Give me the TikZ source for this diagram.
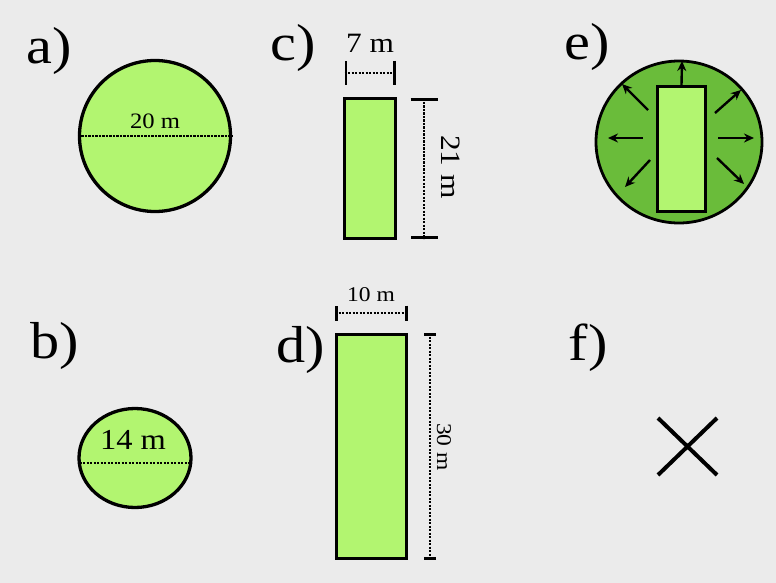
\documentclass[tikz,border=0pt]{standalone}
\usepackage{fontspec}
\setmainfont{Liberation Serif}[FakeStretch=1.12]
\usetikzlibrary{arrows.meta,shapes.geometric}
\definecolor{bg}{RGB}{235,235,235}
\definecolor{lgreen}{RGB}{178,245,112}
\definecolor{dgreen}{RGB}{106,188,58}
\begin{document}
\begin{tikzpicture}[x=1pt,y=-1pt,
  shapeline/.style={draw=black, line width=3.3pt, fill=lgreen, inner sep=0pt},
  dimline/.style={line width=2.8pt, dash pattern=on 2.2pt off 1.3pt},
  dimbars/.style={line width=2.6pt, {Bar[width=#1,line width=2.6pt]}-{Bar[width=#1,line width=2.6pt]}},
  lbl/.style={font=\fontsize{52}{52}\selectfont, inner sep=0pt},
  dimtxt/.style={font=\fontsize{#1}{#1}\selectfont, inner sep=0pt},
  outarrow/.style={line width=2.4pt, -{Stealth[length=10pt,width=9pt]}},
  cross/.style={line width=4pt}]
\fill[bg] (0,0) rectangle (776,583);
\useasboundingbox (0,0) rectangle (776,583);

% labels
\node[lbl] (la) at (49,51) {a)};
\node[lbl] (lb) at (55,346) {b)};
\node[lbl] (lc) at (293,48) {c)};
\node[lbl] (ld) at (301,350) {d)};
\node[lbl] (le) at (587,47) {e)};
\node[lbl] (lf) at (588,348) {f)};

% a) circle
\node[shapeline, circle, minimum size=151pt] (ca) at (155,136) {};
\draw[dimline] (ca.west) -- (ca.east);
\node[dimtxt=22] (ta) at (155,121) {20 m};

% b) ellipse
\node[shapeline, ellipse, minimum width=112pt, minimum height=99pt] (cb) at (135,458) {};
\coordinate (bl) at (79.5,463);
\coordinate (br) at (190.5,463);
\draw[dimline] (bl) -- (br);
\node[dimtxt=29] (tb) at (133,440) {14 m};

% c) rectangle
\node[shapeline, rectangle, minimum width=51pt, minimum height=140pt] (rc) at (370,168.5) {};
\coordinate (c1) at (344.5,73);
\coordinate (c2) at (395.5,73);
\draw[dimline] (c1) -- (c2);
\draw[dimbars=24pt, dash pattern=on 0pt off 100pt] (c1) -- (c2);
\node[dimtxt=28] (tc1) at (370,43) {7 m};
\coordinate (c3) at (424,98.5);
\coordinate (c4) at (424,238.5);
\draw[dimline] (c3) -- (c4);
\draw[dimbars=27pt, dash pattern=on 0pt off 300pt] (c3) -- (c4);
\node[dimtxt=28, rotate=-90] (tc2) at (451,167) {21 m};

% d) rectangle
\node[shapeline, rectangle, minimum width=70pt, minimum height=224pt] (rd) at (371.5,446.5) {};
\coordinate (d1) at (335,313);
\coordinate (d2) at (408,313);
\draw[dimline] (d1) -- (d2);
\draw[dimbars=15pt, dash pattern=on 0pt off 300pt] (d1) -- (d2);
\node[dimtxt=21] (td1) at (371,295) {10 m};
\coordinate (d3) at (430,333);
\coordinate (d4) at (430,560);
\draw[dimline] (d3) -- (d4);
\draw[dimbars=12pt, dash pattern=on 0pt off 500pt] (d3) -- (d4);
\node[dimtxt=21, rotate=-90] (td2) at (444,447) {30 m};

% e) circle with rectangle and arrows
\node[draw=black, line width=2.8pt, fill=dgreen, ellipse, minimum width=166pt, minimum height=162pt] (ce) at (679,142) {};
\node[shapeline, rectangle, minimum width=48pt, minimum height=125pt] (re) at (681.5,149) {};
\coordinate (e0) at (682,61);
\draw[outarrow] (re.north) -- (e0);
\coordinate (e1a) at (643,138); \coordinate (e1b) at (608,138);
\draw[outarrow] (e1a) -- (e1b);
\coordinate (e2a) at (718,138); \coordinate (e2b) at (754,138);
\draw[outarrow] (e2a) -- (e2b);
\coordinate (e3a) at (648,110); \coordinate (e3b) at (622,84);
\draw[outarrow] (e3a) -- (e3b);
\coordinate (e4a) at (715,113); \coordinate (e4b) at (741,90);
\draw[outarrow] (e4a) -- (e4b);
\coordinate (e5a) at (650,160); \coordinate (e5b) at (625,187);
\draw[outarrow] (e5a) -- (e5b);
\coordinate (e6a) at (717,158); \coordinate (e6b) at (744,184);
\draw[outarrow] (e6a) -- (e6b);

% f) cross
\coordinate (f1) at (658,418); \coordinate (f2) at (717,475);
\coordinate (f3) at (658,475); \coordinate (f4) at (717,418);
\draw[cross] (f1) -- (f2);
\draw[cross] (f3) -- (f4);
\end{tikzpicture}
\end{document}
